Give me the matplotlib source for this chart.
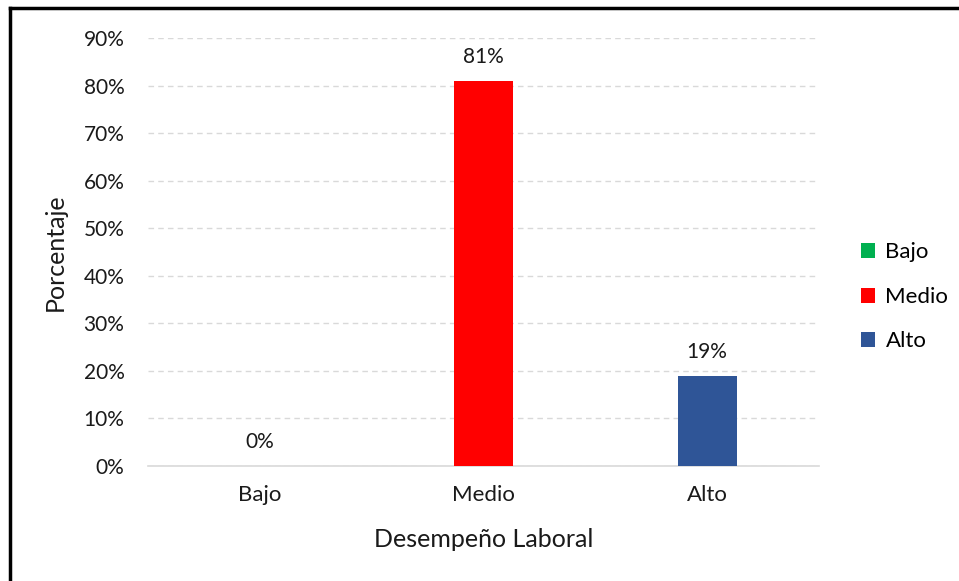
import matplotlib.pyplot as plt
from matplotlib.patches import Patch
from matplotlib.lines import Line2D

# datos del grafico
categorias = ['Bajo', 'Medio', 'Alto']
porcentajes = [0.0, 0.81, 0.19]
etiquetas = ['0%', '81%', '19%']
colores = ['#00B050', '#FF0000', '#2F5597']
yticks = [0.0, 0.1, 0.2, 0.3, 0.4, 0.5, 0.6, 0.7, 0.8, 0.9]

plt.rcParams['font.family'] = ['Lato', 'DejaVu Sans']

fig = plt.figure(figsize=(9.59, 5.81), dpi=100)
ax = fig.add_axes([148/959, 1-466/581, (819-148)/959, (466-38)/581])

x = range(len(categorias))
ax.bar(x, porcentajes, width=0.263, color=colores, zorder=3)

for xi, v, lab in zip(x, porcentajes, etiquetas):
    ax.annotate(lab, (xi, v), xytext=(0, 17), textcoords='offset points',
                ha='center', va='center', fontsize=15, color='#1a1a1a')

ax.set_xlim(-0.5, 2.5)
ax.set_ylim(0, 0.9)
ax.set_yticks(yticks)
ax.set_yticklabels([f'{int(round(t*100))}%' for t in yticks])
ax.set_xticks(list(x))
ax.set_xticklabels(categorias)
ax.tick_params(length=0, labelsize=15, colors='#1a1a1a')
ax.tick_params(axis='y', pad=17)
ax.tick_params(axis='x', labelsize=16, pad=14)

ax.grid(axis='y', color='#d9d9d9', linestyle=(0, (4, 3)), linewidth=1, zorder=0)
for s in ['top', 'right', 'left']:
    ax.spines[s].set_visible(False)
ax.spines['bottom'].set_color('#d9d9d9')
ax.spines['bottom'].set_linewidth(1.2)

ax.set_ylabel('Porcentaje', fontsize=18, color='#1a1a1a', labelpad=12)
ax.set_xlabel('Desempeño Laboral', fontsize=18, color='#1a1a1a', labelpad=16)

handles = [Patch(facecolor=c, edgecolor='none') for c in colores]
fig.legend(handles, categorias, loc='center left', bbox_to_anchor=(0.886, 0.489),
           frameon=False, fontsize=16, handlelength=0.66, handleheight=0.66,
           labelspacing=1.1, handletextpad=0.45, borderpad=0)

# marco superior e izquierdo
fig.add_artist(Line2D([10/959, 10/959], [0, 1-8/581], transform=fig.transFigure,
                      color='black', linewidth=2.5))
fig.add_artist(Line2D([10/959, 1], [1-8/581, 1-8/581], transform=fig.transFigure,
                      color='black', linewidth=2.5))

fig.savefig('out.png', dpi=100)
